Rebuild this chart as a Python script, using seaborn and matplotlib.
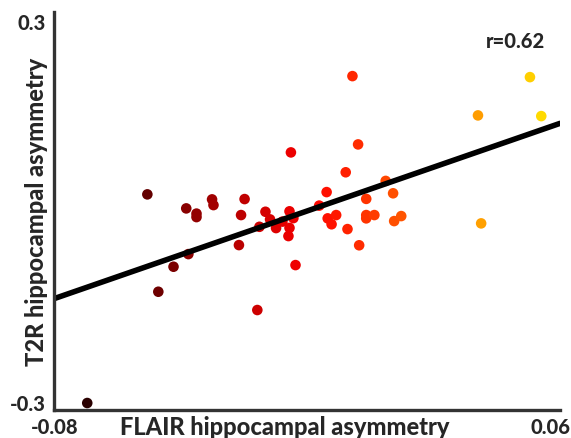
import numpy as np
import pandas as pd
import seaborn as sns
import matplotlib.pyplot as plt

# 데이터
flair = [-0.0709, -0.0539, -0.0508, -0.0465, -0.0429, -0.0423, -0.0400, -0.0400,
         -0.0356, -0.0352, -0.0280, -0.0274, -0.0264, -0.0228, -0.0222, -0.0205,
         -0.0192, -0.0175, -0.0157, -0.0137, -0.0126, -0.0137, -0.0140, -0.0120,
         -0.0133, -0.0053, -0.0032, -0.0029, -0.0005, -0.0018, 0.0022, 0.0027,
         0.0041, 0.0057, 0.0060, 0.0080, 0.0080, 0.0080, 0.0103, 0.0135,
         0.0156, 0.0159, 0.0179, 0.0396, 0.0405, 0.0543, 0.0575]
t2r = [-0.300, 0.0287, -0.1247, -0.0853, 0.0066, -0.0654, -0.0016, -0.0071,
       0.0208, 0.0118, -0.0512, -0.0039, 0.0213, -0.1535, -0.0224, 0.0013,
       -0.0107, -0.0244, -0.0142, 0.0020, -0.0087, -0.0241, -0.0370, -0.0827,
       0.0948, 0.0110, 0.0323, -0.0091, -0.0039, -0.0184, 0.0635, -0.0260,
       0.2150, 0.1074, -0.0515, 0.0216, -0.0039, -0.0091, -0.0039, 0.0499,
       0.0304, -0.0134, -0.0055, 0.1531, -0.0170, 0.2134, 0.1520]
x_ticks = [-0.08, 0.06]
y_ticks = [-0.3, 0.3]
r_text = "r=0.62"

df = pd.DataFrame({"flair": flair, "t2r": t2r})

sns.set_style("white")
plt.rcParams['font.family'] = ['Lato', 'DejaVu Sans']

fig = plt.figure(figsize=(5.71, 4.38), dpi=100)
ax = fig.add_axes([54 / 571, 1 - 410 / 438, 506 / 571, 398 / 438])

sns.scatterplot(data=df, x="flair", y="t2r", hue="flair", palette="hot",
                hue_norm=(-0.081, 0.12), s=58, linewidth=0, legend=False, ax=ax)
ax.set_xlim(-0.0803, 0.0628)
ax.set_ylim(-0.311, 0.316)
sns.regplot(data=df, x="flair", y="t2r", scatter=False, ci=None, truncate=False,
            line_kws={"color": "black", "lw": 4}, ax=ax)
ax.set_xlim(-0.0803, 0.0628)
ax.set_ylim(-0.311, 0.316)

sns.despine(ax=ax)
for s in ["left", "bottom"]:
    ax.spines[s].set_linewidth(2.4)
    ax.spines[s].set_color("#333333")

ax.set_xticks(x_ticks)
ax.set_xticklabels(["-0.08", "0.06"])
ax.set_yticks(y_ticks)
ax.set_yticklabels(["-0.3", "0.3"])
ax.tick_params(length=0, labelsize=14.5, pad=6)
for lab in ax.get_xticklabels() + ax.get_yticklabels():
    lab.set_fontweight(900)

ax.set_xlabel("FLAIR hippocampal asymmetry", fontsize=17, fontweight=900)
ax.set_ylabel("T2R hippocampal asymmetry", fontsize=17, fontweight=900)
ax.xaxis.set_label_coords(0.456, -0.043)
ax.xaxis.label.set_va("center")
ax.yaxis.set_label_coords(-0.034, 0.497)
ax.yaxis.label.set_va("center")

ax.text(0.97, 0.925, r_text, transform=ax.transAxes, ha="right", va="center",
        fontsize=14.5, fontweight=900)

plt.savefig("out.png", dpi=100)
